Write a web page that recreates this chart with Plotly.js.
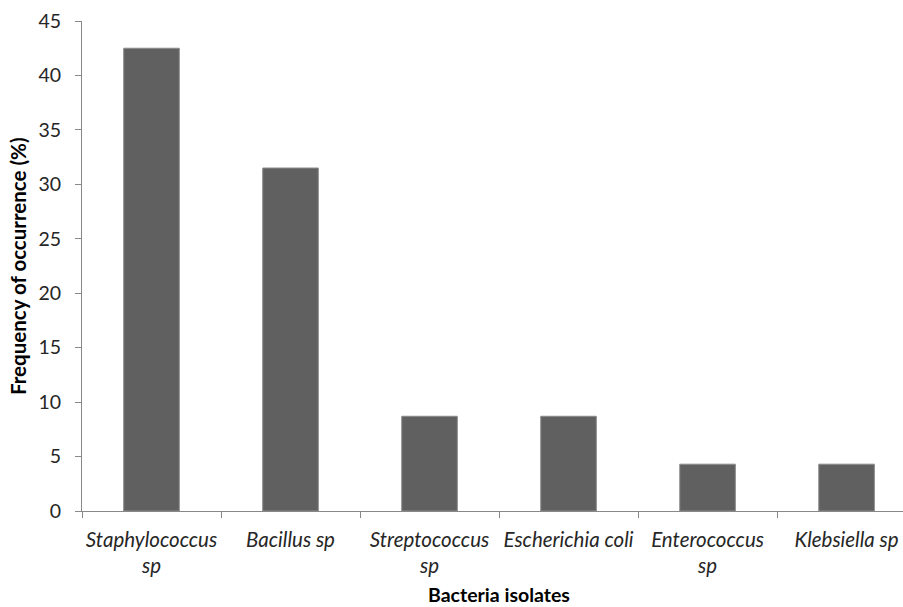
<!DOCTYPE html>
<html>
<head>
<meta charset="utf-8">
<script src="https://cdn.plot.ly/plotly-3.0.1.min.js"></script>
<style>html,body{margin:0;padding:0;background:#fff;}#chart{width:903px;height:607px;}</style>
</head>
<body>
<div id="chart"></div>
<script>
const categories = ["Staphylococcus sp", "Bacillus sp", "Streptococcus sp", "Escherichia coli", "Enterococcus sp", "Klebsiella sp"];
const tickLabels = ["<i>Staphylococcus</i><br><i>sp</i>", "<i>Bacillus sp</i>", "<i>Streptococcus</i><br><i>sp</i>", "<i>Escherichia coli</i>", "<i>Enterococcus</i><br><i>sp</i>", "<i>Klebsiella sp</i>"];
const frequency = [42.5, 31.5, 8.7, 8.7, 4.3, 4.3];
const yTicks = [0, 5, 10, 15, 20, 25, 30, 35, 40, 45];

const FONT = "Lato, 'Open Sans', sans-serif";

const trace = {
  type: "bar",
  x: categories,
  y: frequency,
  width: 0.4,
  marker: { color: "#606060", line: { color: "#8c8c8c", width: 1 } },
  hoverinfo: "x+y"
};

const layout = {
  width: 903,
  height: 607,
  margin: { l: 82, r: 0, t: 21, b: 96 },
  paper_bgcolor: "#fff",
  plot_bgcolor: "#fff",
  showlegend: false,
  font: { family: FONT, size: 20, color: "#262626" },
  xaxis: {
    type: "category",
    range: [-0.5, 5.406],
    tickmode: "array",
    tickvals: categories,
    ticktext: tickLabels,
    tickson: "boundaries",
    ticks: "outside",
    ticklen: 6,
    tickcolor: "#888",
    showline: true,
    linecolor: "#888",
    linewidth: 1,
    showgrid: false,
    zeroline: false,
    tickangle: 0,
    ticklabelstandoff: 10,
    tickfont: { family: FONT, size: 20.5, color: "#262626" }
  },
  yaxis: {
    range: [0, 45],
    tickmode: "array",
    tickvals: yTicks,
    ticks: "outside",
    ticklen: 6,
    tickcolor: "#888",
    showline: true,
    linecolor: "#888",
    linewidth: 1,
    showgrid: false,
    zeroline: false,
    ticklabelstandoff: 10,
    tickfont: { family: FONT, size: 19.5, color: "#262626" }
  },
  annotations: [
    {
      text: "<b>Frequency of occurrence (%)</b>",
      xref: "paper", yref: "paper",
      x: (18 - 82) / 821, y: 0.5,
      xanchor: "center", yanchor: "middle",
      textangle: -90, showarrow: false,
      font: { family: FONT, size: 20.5, color: "#000" }
    },
    {
      text: "<b>Bacteria isolates</b>",
      xref: "paper", yref: "paper",
      x: (499 - 82) / 821, y: (511 - 594) / 490,
      xanchor: "center", yanchor: "middle",
      showarrow: false,
      font: { family: FONT, size: 19.5, color: "#000" }
    }
  ]
};

Plotly.newPlot("chart", [trace], layout, { displayModeBar: false, staticPlot: true });
</script>
</body>
</html>
